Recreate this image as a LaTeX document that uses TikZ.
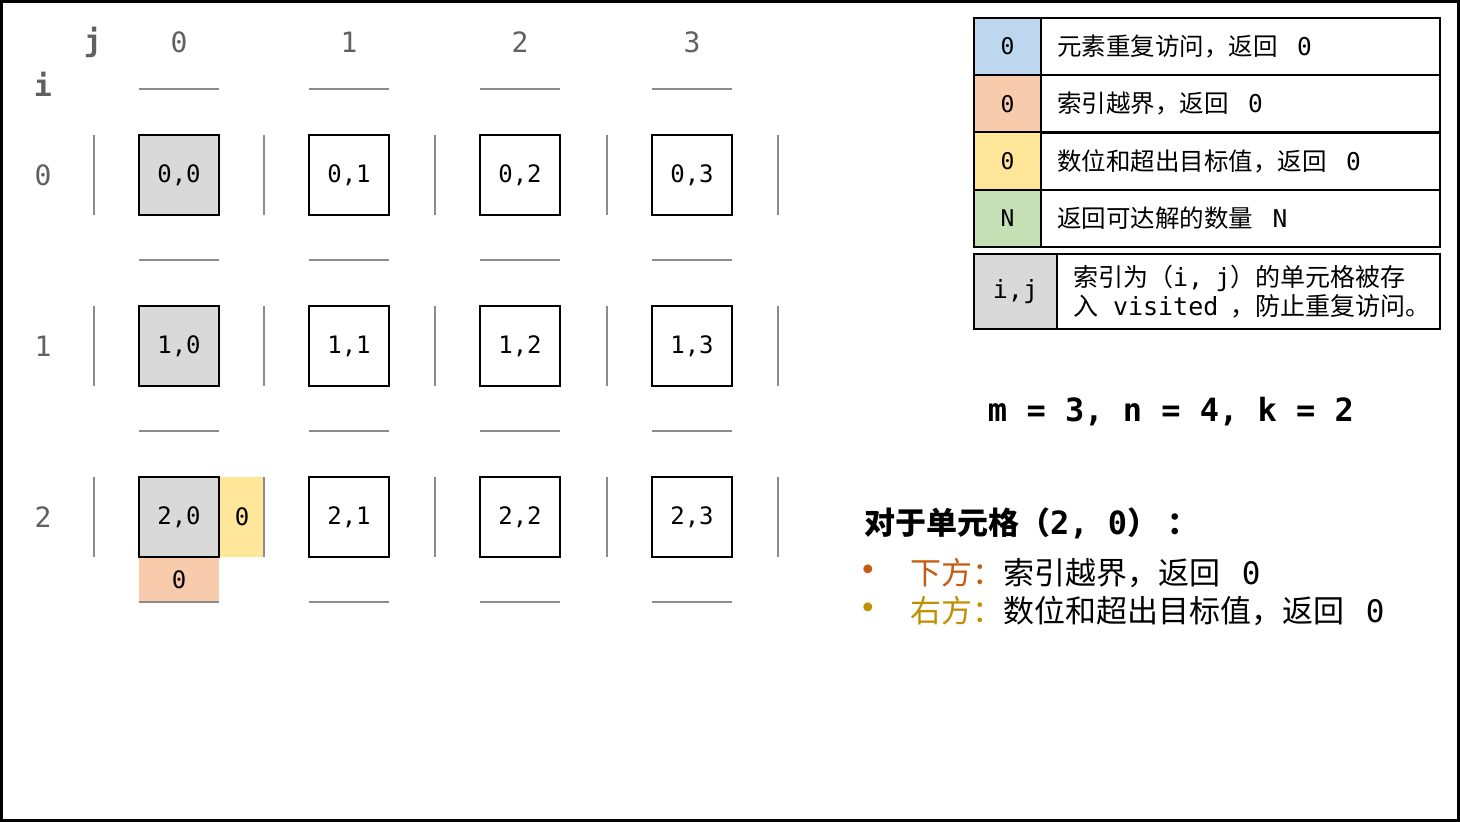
\documentclass[tikz,border=0pt]{standalone}
\usepackage{fontspec}
\newfontfamily\cjk{Noto Sans CJK SC}
\newfontfamily\mono{DejaVu Sans Mono}
\definecolor{gridgray}{HTML}{8C8C8C}
\definecolor{labgray}{HTML}{606060}
\definecolor{cellgray}{HTML}{D9D9D9}
\definecolor{lblue}{HTML}{BDD7EE}
\definecolor{lpeach}{HTML}{F8CBAD}
\definecolor{lyellow}{HTML}{FFE699}
\definecolor{lgreen}{HTML}{C5E0B4}
\definecolor{orangeT}{HTML}{C55A11}
\definecolor{goldT}{HTML}{BF9000}
\newcommand{\fs}[1]{\fontsize{#1}{#1}\selectfont}
\tikzset{
  cellbox/.style={draw=black, line width=2pt, minimum width=80pt, minimum height=80pt, inner sep=0pt, font=\mono\fs{24}},
  hlbox/.style={inner sep=0pt, font=\mono\fs{24}},
  gline/.style={draw=gridgray, line width=2pt},
  axlab/.style={text=labgray, font=\mono\fs{28}},
  legkey/.style={draw=black, line width=2pt, inner sep=0pt, font=\mono\fs{23}},
  legtext/.style={draw=black, line width=2pt, inner xsep=16pt, inner ysep=0pt, align=left, font=\fs{24.5}},
}
\begin{document}
\begin{tikzpicture}[x=1pt,y=-1pt]
\useasboundingbox (0,0) rectangle (1460,822);
\draw[line width=3pt] (1.5,1.5) rectangle (1458.5,820.5);

% axis labels
\node[axlab, font=\mono\bfseries\fs{30}] (jlab) at (93,42) {j};
\node[axlab, font=\mono\bfseries\fs{30}] (ilab) at (43,84) {i};
\foreach \c/\x in {0/179,1/349,2/520,3/692}
  \node[axlab] (col\c) at (\x,42) {\c};
\foreach \r/\y in {0/175,1/346,2/517}
  \node[axlab] (row\r) at (43,\y) {\r};

% highlight cells
\node[hlbox, fill=lyellow, minimum width=44pt, minimum height=80pt] (right20) at (242,517) {0};
\node[hlbox, fill=lpeach, minimum width=80pt, minimum height=44pt] (down20) at (179,580) {0};

% grid lines
\foreach \x in {179,349,520,692}
  \foreach \y in {89,260,431,602}
    \draw[gline] (\x-40,\y) -- (\x+40,\y);
\foreach \x in {94,264,435,607,778}
  \foreach \y in {175,346,517}
    \draw[gline] (\x,\y-40) -- (\x,\y+40);

% cells
\foreach \r/\y in {0/175,1/346,2/517}
  \foreach \c/\x in {0/179,1/349,2/520,3/692} {
    \ifnum\c=0
      \node[cellbox, fill=cellgray] (c\r\c) at (\x,\y) {\r,\c};
    \else
      \node[cellbox, fill=white] (c\r\c) at (\x,\y) {\r,\c};
    \fi
  }

% legend
\node[legkey, fill=lblue, minimum width=67pt, minimum height=57.25pt] (k1) at (1007.5,46.6) {0};
\node[legtext, text width=367pt, minimum height=57.25pt] (t1) at (1240.5,46.6) {{\cjk 元素重复访问，返回}\hspace{0.8em}{\mono 0}};
\node[legkey, fill=lpeach, minimum width=67pt, minimum height=57.25pt] (k2) at (1007.5,103.9) {0};
\node[legtext, text width=367pt, minimum height=57.25pt] (t2) at (1240.5,103.9) {{\cjk 索引越界，返回}\hspace{0.8em}{\mono 0}};
\node[legkey, fill=lyellow, minimum width=67pt, minimum height=57.25pt] (k3) at (1007.5,161.1) {0};
\node[legtext, text width=367pt, minimum height=57.25pt] (t3) at (1240.5,161.1) {{\cjk 数位和超出目标值，返回}\hspace{0.8em}{\mono 0}};
\node[legkey, fill=lgreen, minimum width=67pt, minimum height=57.25pt] (k4) at (1007.5,218.4) {N};
\node[legtext, text width=367pt, minimum height=57.25pt] (t4) at (1240.5,218.4) {{\cjk 返回可达解的数量}\hspace{0.8em}{\mono N}};

\node[legkey, fill=cellgray, minimum width=83pt, minimum height=75pt, font=\mono\fs{25}] (k5) at (1015.5,291.5) {i,j};
\node[legtext, text width=351pt, minimum height=75pt, font=\fs{25}\linespread{1.15}\selectfont] (t5) at (1248.5,291.5)
  {\makebox[351pt][l]{{\cjk 索引为（}{\mono i,\hspace{0.5em}j}{\cjk ）的单元格被存}}\\
   \makebox[351pt][l]{{\cjk 入}\hspace{0.6em}{\mono visited}\hspace{0.5em}{\cjk ，防止重复访问。}}};

% parameters
\node[font=\mono\bfseries\fs{32}] (params) at (1171,412) {m = 3, n = 4, k = 2};

% explanation
\node[anchor=west, inner sep=0pt, font=\fs{31}] (title) at (864,523)
  {{\cjk\bfseries 对于单元格（}{\mono\bfseries\fs{32}2,\hspace{0.6em}0}{\cjk\bfseries ）\hspace{0.3em}：}};
\node[text=orangeT, inner sep=0pt, font=\mono\fs{30}] (b1) at (868,573) {•};
\node[text=goldT, inner sep=0pt, font=\mono\fs{30}] (b2) at (868,611) {•};
\node[anchor=west, inner sep=0pt, font=\fs{31}] (l1) at (910,573)
  {{\cjk\color{orangeT}下方：}{\cjk 索引越界，返回}\hspace{0.7em}{\mono 0}};
\node[anchor=west, inner sep=0pt, font=\fs{31}] (l2) at (910,611)
  {{\cjk\color{goldT}右方：}{\cjk 数位和超出目标值，返回}\hspace{0.7em}{\mono 0}};
\end{tikzpicture}
\end{document}
